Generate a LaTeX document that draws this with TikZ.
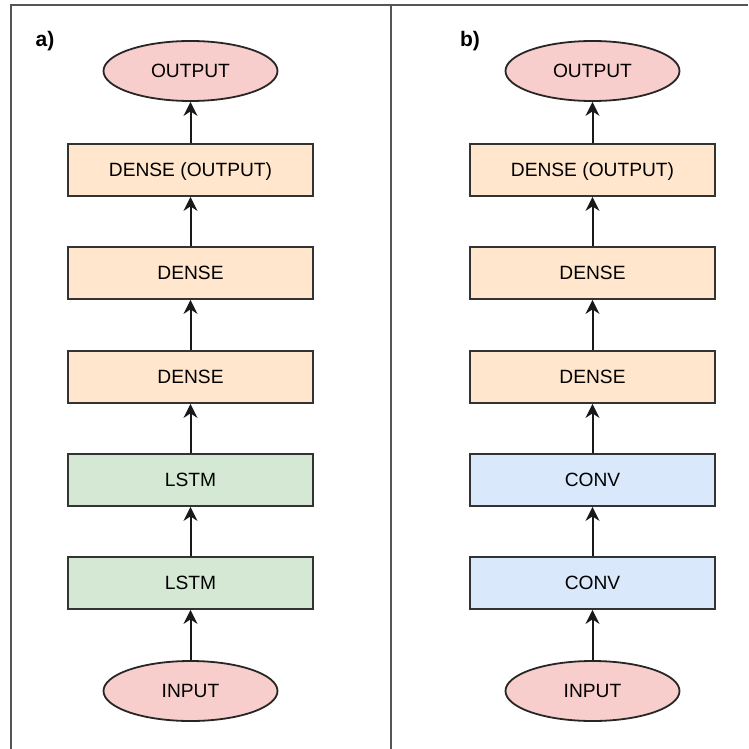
\documentclass[tikz,border=0pt]{standalone}
\usepackage{fontspec}
\setmainfont{Liberation Sans}
\usetikzlibrary{arrows.meta,shapes.geometric}
\definecolor{pinkfill}{HTML}{F8CECC}
\definecolor{peachfill}{HTML}{FFE6CC}
\definecolor{greenfill}{HTML}{D5E8D4}
\definecolor{bluefill}{HTML}{DAE8FC}
\definecolor{framegray}{HTML}{555555}
\begin{document}
\begin{tikzpicture}[x=1pt,y=-1pt,
  layer/.style={draw=black!80, line width=1.8pt, minimum width=245pt, minimum height=52pt,
    inner sep=0pt, text height=13.6pt, text depth=0pt, font=\fontsize{19.2}{23}\selectfont},
  terminal/.style={ellipse, draw=black!85, line width=1.8pt, fill=pinkfill, minimum width=174pt,
    minimum height=60pt, inner sep=0pt, text height=13.6pt, text depth=0pt,
    font=\fontsize{19.2}{23}\selectfont},
  flow/.style={-{Stealth[length=14pt,width=14pt,inset=4.5pt]}, line width=2pt, black!90},
  panel/.style={font=\bfseries\fontsize{21}{25}\selectfont, inner sep=0pt}]
\useasboundingbox (0,0) rectangle (748,749);
% panel frame
\draw[framegray, line width=1.6pt] (11,749) -- (11,5) -- (748,5);
\draw[framegray, line width=1.6pt] (391,5) -- (391,749);
% panel labels
\node[panel] (la) at (45,41) {a)};
\node[panel] (lb) at (470,41) {b)};
% left stack: recurrent model
\node[terminal] (a-in)  at (190.5,691) {INPUT};
\node[layer, fill=greenfill] (a-1) at (190.5,583) {LSTM};
\node[layer, fill=greenfill] (a-2) at (190.5,480) {LSTM};
\node[layer, fill=peachfill] (a-3) at (190.5,377) {DENSE};
\node[layer, fill=peachfill] (a-4) at (190.5,273) {DENSE};
\node[layer, fill=peachfill] (a-5) at (190.5,170) {DENSE (OUTPUT)};
\node[terminal] (a-out) at (190.5,71) {OUTPUT};
% right stack: convolutional model
\node[terminal] (b-in)  at (592.5,691) {INPUT};
\node[layer, fill=bluefill] (b-1) at (592.5,583) {CONV};
\node[layer, fill=bluefill] (b-2) at (592.5,480) {CONV};
\node[layer, fill=peachfill] (b-3) at (592.5,377) {DENSE};
\node[layer, fill=peachfill] (b-4) at (592.5,273) {DENSE};
\node[layer, fill=peachfill] (b-5) at (592.5,170) {DENSE (OUTPUT)};
\node[terminal] (b-out) at (592.5,71) {OUTPUT};
% connectors
\foreach \p in {a,b}{
  \draw[flow] (\p-in) -- (\p-1);
  \draw[flow] (\p-1) -- (\p-2);
  \draw[flow] (\p-2) -- (\p-3);
  \draw[flow] (\p-3) -- (\p-4);
  \draw[flow] (\p-4) -- (\p-5);
  \draw[flow] (\p-5) -- (\p-out);
}
\end{tikzpicture}
\end{document}
